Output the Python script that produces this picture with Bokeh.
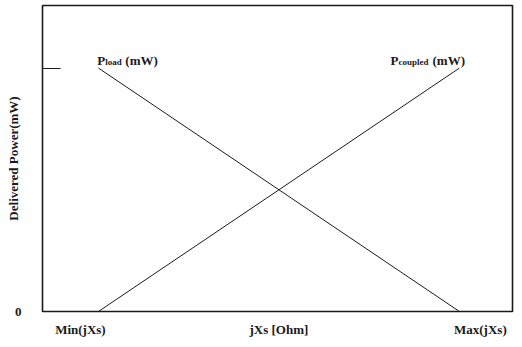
from bokeh.plotting import figure
from bokeh.models import Label, FixedTicker, Range1d
from bokeh.embed import file_html
from bokeh.resources import INLINE

# data
x_pos = [0.0, 1.0]            # Min(jXs) .. Max(jXs) (normalised)
p_load = [1.0, 0.0]           # P_load (mW), normalised
p_coupled = [0.0, 1.0]        # P_coupled (mW), normalised
x_tick_labels = ["Min(jXs)", "jXs [Ohm]", "Max(jXs)"]
y_tick_labels = ["0", ""]
y_title = "Delivered Power(mW)"

FONT = "Liberation Serif"
INK = "#1a1a1a"

p = figure(width=514, height=339, output_backend="svg", toolbar_location=None,
           x_range=Range1d(-0.155, 1.147), y_range=Range1d(0, 1.257),
           min_border_left=42, min_border_right=2, min_border_top=5, min_border_bottom=26)
p.grid.visible = False
p.background_fill_color = "white"
p.border_fill_color = "white"
p.outline_line_color = INK
p.outline_line_width = 1.6

p.line(x_pos, p_load, line_color=INK, line_width=1)
p.line(x_pos, p_coupled, line_color=INK, line_width=1)

# x axis: labels as tick labels
xt = [-0.05, 0.5, 1.058]
p.xaxis.ticker = FixedTicker(ticks=xt)
p.xaxis.major_label_overrides = {t: l for t, l in zip(xt, x_tick_labels)}
p.xaxis.axis_line_color = None
p.xaxis.major_tick_line_color = None
p.xaxis.major_tick_in = 0
p.xaxis.major_tick_out = 0
p.xaxis.minor_tick_line_color = None
p.xaxis.major_label_standoff = 10
p.xaxis.major_label_text_font = FONT
p.xaxis.major_label_text_font_style = "bold"
p.xaxis.major_label_text_font_size = "13px"
p.xaxis.major_label_text_color = INK

yt = [0, 1]
p.yaxis.ticker = FixedTicker(ticks=yt)
p.yaxis.major_label_overrides = {t: l for t, l in zip(yt, y_tick_labels)}
p.yaxis.axis_line_color = None
p.yaxis.major_tick_in = 18
p.yaxis.major_tick_out = 0
p.yaxis.major_tick_line_color = INK
p.yaxis.minor_tick_line_color = None
p.yaxis.major_label_standoff = 21
p.yaxis.major_label_text_font = FONT
p.yaxis.major_label_text_font_style = "bold"
p.yaxis.major_label_text_font_size = "13px"
p.yaxis.major_label_text_color = INK
p.yaxis.axis_label = y_title
p.yaxis.axis_label_standoff = -9
p.yaxis.axis_label_text_font = FONT
p.yaxis.axis_label_text_font_style = "bold"
p.yaxis.axis_label_text_font_size = "13px"
p.yaxis.axis_label_text_color = INK


def sub_label(x, y, main, sub, tail, sub_dx, tail_dx):
    p.add_layout(Label(x=x, y=y, text=main, text_align="left", text_baseline="alphabetic",
                       text_font=FONT, text_font_style="bold", text_font_size="13px",
                       text_color=INK))
    p.add_layout(Label(x=x, y=y, x_offset=sub_dx, y_offset=-2, text=sub, text_align="left",
                       text_baseline="alphabetic", text_font=FONT,
                       text_font_style="bold", text_font_size="9px", text_color=INK))
    p.add_layout(Label(x=x, y=y, x_offset=tail_dx, text=tail, text_align="left",
                       text_baseline="alphabetic", text_font=FONT,
                       text_font_style="bold", text_font_size="13px", text_color=INK))


sub_label(-0.003, 1.033, "P", "load", "(mW)", 8, 28)
sub_label(0.809, 1.033, "P", "coupled", "(mW)", 8, 42)

open("out.html", "w").write(file_html(p, INLINE))
